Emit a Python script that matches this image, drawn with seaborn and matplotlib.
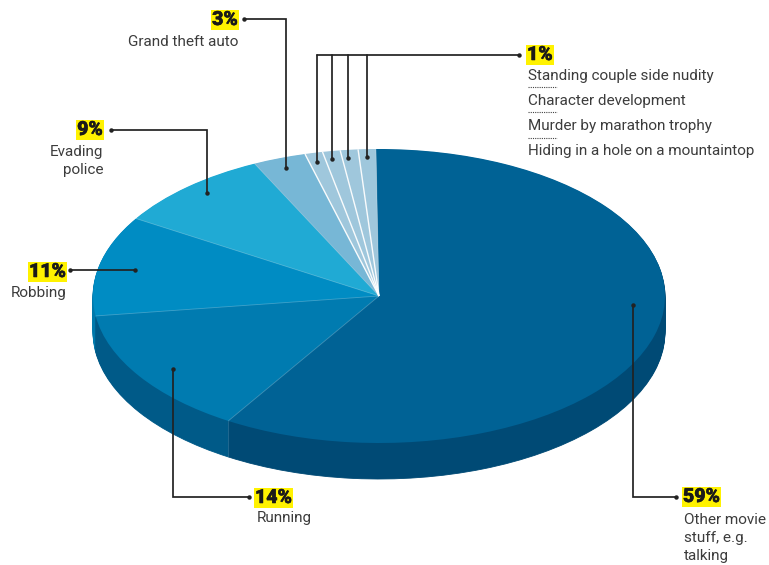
import matplotlib.patheffects as pe
import matplotlib.pyplot as plt
import numpy as np
import seaborn as sns

shares = [59, 14, 11, 9, 3, 1, 1, 1, 1]
pct_labels = ["59%", "14%", "11%", "9%", "3%", "1%"]
captions = [
    "Other movie\nstuff, e.g.\ntalking",
    "Running",
    "Robbing",
    "Evading\npolice",
    "Grand theft auto",
]
one_pct_captions = [
    "Standing couple side nudity",
    "Character development",
    "Murder by marathon trophy",
    "Hiding in a hole on a mountaintop",
]
top_colors = ["#006295", "#007bb0", "#008cc3", "#20aad4", "#77b7d6",
              "#9fc7dc", "#9fc7dc", "#9fc7dc", "#9fc7dc"]
side_colors = ["#004a75", "#005a88", "#0079ab", "#1790b8", "#5f9dbc",
               "#86acc0", "#86acc0", "#86acc0", "#86acc0"]

W, H = 769, 565
CX, CY, RX, RY, DEPTH = 379, 296, 286, 147, 36
START = 90.6
INK = "#222222"
TEXT = "#3c3c3c"
YELLOW = "#fff200"

sns.set_theme(style="white")
plt.rcParams["font.family"] = ["Roboto", "DejaVu Sans"]

fig = plt.figure(figsize=(W / 100, H / 100), dpi=100)
ax = fig.add_axes([0, 0, 1, 1])

# extruded side first, one pie per pixel of depth, then the top face
for d in range(DEPTH, 0, -1):
    wedges, _ = ax.pie(shares, startangle=START, counterclock=False, colors=side_colors,
                       center=(0, -d / RY), radius=1)
    for w, c in zip(wedges, side_colors):
        w.set_edgecolor(c)
        w.set_linewidth(0.6)
ax.pie(shares, startangle=START, counterclock=False, colors=top_colors,
       center=(0, 0), radius=1, wedgeprops={"linewidth": 0})

# pie() wants equal aspect, the tilt comes from letting the axes squash it
ax.set_aspect("auto")
ax.set_xlim((0 - CX) / RX, (W - CX) / RX)
ax.set_ylim((CY - H) / RY, CY / RY)

# seams between the slices
angles = START - np.cumsum(shares) * 3.6
for i, ang in enumerate(np.radians(angles)):
    x, y = np.cos(ang), np.sin(ang)
    small = i >= 4 and i < len(shares) - 1
    ax.plot([0, x], [0, y], color="white", lw=1.0 if small else 0.6,
            alpha=0.95 if small else 0.25, solid_capstyle="butt")
    if i == 0:
        ax.plot([x, x], [y, y - DEPTH / RY], color="white", lw=0.6, alpha=0.15)

# overlay in picture pixels for leaders and text
ov = fig.add_axes([0, 0, 1, 1], facecolor="none")
ov.set_xlim(0, W)
ov.set_ylim(H, 0)
ov.axis("off")


def leader(xs, ys):
    ov.plot(xs, ys, color=INK, lw=1.25, solid_joinstyle="miter")
    ov.plot([xs[0], xs[-1]], [ys[0], ys[-1]], "o", color=INK, ms=3.2, mew=0)


leader([676, 633, 633], [497, 497, 305])
leader([249, 173, 173], [497, 497, 369])
leader([70, 135], [270, 270])
leader([111, 207, 207], [130, 130, 193])
leader([244, 286, 286], [19, 19, 168])
for vx, vy in zip([317, 332, 348, 367], [162, 159, 158, 157]):
    ov.plot([vx, vx], [55, vy], color=INK, lw=1.25)
    ov.plot([vx], [vy], "o", color=INK, ms=3.2, mew=0)
ov.plot([317, 519], [55, 55], color=INK, lw=1.25)
ov.plot([519], [55], "o", color=INK, ms=3.2, mew=0)


def pct(x, y, s, ha):
    t = ov.text(x, y, s, ha=ha, va="center", fontsize=14, color="#1a1a1a",
                fontweight="black",
                bbox={"boxstyle": "square,pad=0.06", "fc": YELLOW, "ec": "none"})
    t.set_path_effects([pe.withStroke(linewidth=0.4, foreground="#1a1a1a")])


def caption(x, y, s, ha):
    ov.text(x, y, s, ha=ha, va="center", fontsize=11, color=TEXT, linespacing=1.34)


pct(683, 497, pct_labels[0], "left")
caption(684, 538, captions[0], "left")
pct(255, 498, pct_labels[1], "left")
caption(257, 518, captions[1], "left")
pct(66, 272, pct_labels[2], "right")
caption(66, 293, captions[2], "right")
pct(103, 130, pct_labels[3], "right")
caption(103, 161, captions[3], "right")
pct(238, 20, pct_labels[4], "right")
caption(238, 42, captions[4], "right")
pct(527, 55, pct_labels[5], "left")

for cap, y in zip(one_pct_captions, [76, 101, 126, 151]):
    caption(528, y, cap, "left")
for y in [87, 112, 138]:
    ov.plot([528, 557], [y, y], color="#444444", lw=0.8, ls=(0, (1, 1)))

fig.savefig("out.png", dpi=100)
